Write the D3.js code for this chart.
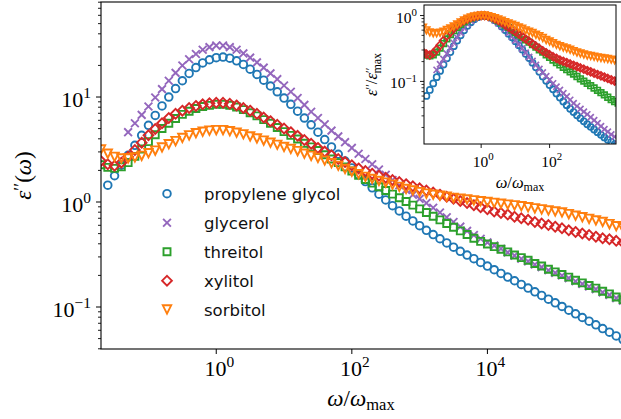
<!DOCTYPE html>
<html><head><meta charset="utf-8">
<script src="https://cdn.jsdelivr.net/npm/d3@7"></script>
<style>html,body{margin:0;padding:0;background:#fff;} svg{display:block}</style>
</head><body>
<svg id="chart" width="621" height="419"></svg>
<script>
// ---------------- data (log10 of omega/omega_max and log10 of eps'') ----------------
const logOmega = [-1.7,-1.6,-1.5,-1.4,-1.3,-1.2,-1.1,-1.0,-0.9,-0.8,
  -0.7,-0.6,-0.5,-0.4,-0.3,-0.2,-0.1,0.0,0.1,0.2,
  0.3,0.4,0.5,0.6,0.7,0.8,0.9,1.0,1.1,1.2,
  1.3,1.4,1.5,1.6,1.7,1.8,1.9,2.0,2.1,2.2,
  2.3,2.4,2.5,2.6,2.7,2.8,2.9,3.0,3.1,3.2,
  3.3,3.4,3.5,3.6,3.7,3.8,3.9,4.0,4.1,4.2,
  4.3,4.4,4.5,4.6,4.7,4.8,4.9,5.0,5.1,5.2,
  5.3,5.4,5.5,5.6,5.7,5.8,5.9,6.0];

const logEpsPropyleneGlycol = [null,0.16,0.25,0.35,0.445,0.54,0.635,0.73,0.825,0.915,
  1.0,1.08,1.155,1.225,1.28,1.325,1.355,1.375,1.38,1.37,
  1.345,1.31,1.265,1.215,1.16,1.105,1.05,0.99,0.93,0.865,
  0.80,0.735,0.665,0.595,0.525,0.455,0.39,0.325,0.26,0.195,
  0.135,0.075,0.02,-0.035,-0.085,-0.135,-0.18,-0.225,-0.27,-0.31,
  -0.35,-0.39,-0.43,-0.47,-0.505,-0.54,-0.575,-0.61,-0.645,-0.68,
  -0.715,-0.75,-0.785,-0.82,-0.855,-0.89,-0.925,-0.96,-0.995,-1.03,
  -1.065,-1.10,-1.135,-1.17,-1.205,-1.24,-1.275,-1.31];

const logEpsGlycerol = [null,null,null,null,0.665,0.75,0.83,0.91,0.995,1.075,
  1.155,1.23,1.30,1.36,1.41,1.45,1.475,1.49,1.49,1.475,
  1.45,1.415,1.375,1.33,1.28,1.225,1.17,1.11,1.05,0.99,
  0.925,0.86,0.80,0.74,0.68,0.625,0.57,0.515,0.46,0.41,
  0.36,0.31,0.26,0.21,0.16,0.115,0.07,0.03,-0.01,-0.055,
  -0.10,-0.145,-0.19,-0.235,-0.275,-0.315,-0.35,-0.385,-0.415,-0.445,
  -0.48,-0.51,-0.54,-0.565,-0.595,-0.62,-0.65,-0.675,-0.70,-0.725,
  -0.755,-0.78,-0.805,-0.83,-0.86,-0.885,-0.915,-0.94];

const logEpsThreitol = [0.355,0.33,0.32,0.335,0.375,0.435,0.505,0.575,0.64,0.70,
  0.75,0.795,0.835,0.865,0.89,0.91,0.92,0.93,0.93,0.92,
  0.905,0.88,0.85,0.82,0.785,0.75,0.71,0.67,0.635,0.60,
  0.56,0.525,0.49,0.45,0.41,0.375,0.335,0.295,0.255,0.215,
  0.18,0.145,0.11,0.075,0.04,0.005,-0.03,-0.065,-0.10,-0.135,
  -0.17,-0.205,-0.24,-0.275,-0.31,-0.345,-0.375,-0.40,-0.425,-0.45,
  -0.475,-0.505,-0.53,-0.555,-0.585,-0.61,-0.64,-0.665,-0.69,-0.715,
  -0.745,-0.77,-0.795,-0.82,-0.85,-0.875,-0.905,-0.93];

const logEpsXylitol = [0.39,0.36,0.345,0.375,0.43,0.495,0.565,0.635,0.695,0.75,
  0.80,0.84,0.87,0.895,0.915,0.93,0.94,0.945,0.945,0.935,
  0.92,0.895,0.87,0.84,0.805,0.77,0.735,0.70,0.665,0.63,
  0.59,0.555,0.515,0.48,0.445,0.41,0.38,0.35,0.32,0.295,
  0.27,0.25,0.23,0.21,0.19,0.17,0.15,0.13,0.11,0.09,
  0.07,0.05,0.03,0.01,-0.01,-0.03,-0.05,-0.07,-0.09,-0.105,
  -0.12,-0.14,-0.155,-0.17,-0.19,-0.205,-0.22,-0.235,-0.25,-0.27,
  -0.285,-0.30,-0.315,-0.33,-0.345,-0.355,-0.37,-0.385];

const logEpsSorbitol = [0.50,0.46,0.43,0.415,0.415,0.425,0.44,0.465,0.49,0.52,
  0.55,0.58,0.61,0.635,0.655,0.67,0.68,0.685,0.685,0.675,
  0.66,0.645,0.625,0.605,0.585,0.565,0.545,0.525,0.505,0.485,
  0.46,0.44,0.42,0.395,0.37,0.345,0.315,0.29,0.265,0.24,
  0.22,0.20,0.185,0.165,0.145,0.125,0.11,0.095,0.08,0.07,
  0.06,0.05,0.04,0.032,0.024,0.016,0.008,0.0,-0.008,-0.016,
  -0.024,-0.032,-0.04,-0.05,-0.06,-0.07,-0.08,-0.09,-0.10,-0.115,
  -0.13,-0.145,-0.16,-0.175,-0.19,-0.21,-0.23,-0.25];

const seriesNames = ["propylene glycol","glycerol","threitol","xylitol","sorbitol"];
const seriesColors = ["#1f77b4","#9467bd","#2ca02c","#d62728","#ff7f0e"];
const seriesMarkers = ["circle","x","square","diamond","triangleDown"];
const seriesLogEps = [logEpsPropyleneGlycol, logEpsGlycerol, logEpsThreitol, logEpsXylitol, logEpsSorbitol];

const mainXTickExps = [0, 2, 4];
const mainYTickExps = [-1, 0, 1];
const insetXTickExps = [0, 2];
const insetYTickExps = [-1, 0];

// ---------------- build ----------------
const svg = d3.select("#chart");
const mathFont = "'Liberation Serif','DejaVu Serif',serif";
const sansFont = "'DejaVu Sans',sans-serif";

const series = seriesNames.map((name, i) => {
  const pts = [];
  logOmega.forEach((lx, j) => {
    const v = seriesLogEps[i][j];
    if (v !== null) pts.push({ w: Math.pow(10, lx), e: Math.pow(10, v) });
  });
  const maxE = d3.max(pts, p => p.e);
  pts.forEach(p => p.n = p.e / maxE);
  return { name, color: seriesColors[i], marker: seriesMarkers[i], pts };
});

function markerPath(type, k) {
  if (type === "circle") { const r = 3.8*k; return `M${r},0A${r},${r} 0 1 1 ${-r},0A${r},${r} 0 1 1 ${r},0Z`; }
  if (type === "square") { const h = 3.5*k; return `M${-h},${-h}H${h}V${h}H${-h}Z`; }
  if (type === "diamond") { const d = 4.9*k; return `M0,${-d}L${d},0L0,${d}L${-d},0Z`; }
  if (type === "triangleDown") { const s = 4.2*k; return `M${-s},${-s}L${s},${-s}L0,${s}Z`; }
  if (type === "x") { const s = 3.9*k; return `M${-s},${-s}L${s},${s}M${-s},${s}L${s},${-s}`; }
}

function powLabel(sel, exp, size) {
  const t = sel.append("text").attr("font-family", mathFont).attr("font-size", size).attr("fill", "#000");
  t.append("tspan").text("10");
  t.append("tspan").attr("dy", -0.42*size).attr("font-size", size*0.7)
    .text(exp < 0 ? "\u2212" + Math.abs(exp) : String(exp));
  return t;
}

// ---- main axes ----
const m = { left: 101, right: 623, top: 2, bottom: 349 };
const x = d3.scaleLog().domain([Math.pow(10,-1.70), Math.pow(10,6.0)]).range([m.left, m.right]);
const y = d3.scaleLog().domain([Math.pow(10,-1.40), Math.pow(10,1.905)]).range([m.bottom, m.top]);

svg.append("clipPath").attr("id","mainClip").append("rect")
  .attr("x", m.left).attr("y", m.top).attr("width", m.right-m.left).attr("height", m.bottom-m.top);

const plotG = svg.append("g").attr("clip-path","url(#mainClip)");
series.forEach(s => {
  plotG.append("g").selectAll("path").data(s.pts).join("path")
    .attr("transform", p => `translate(${x(p.w)},${y(p.e)})`)
    .attr("d", markerPath(s.marker, 1))
    .attr("fill", "none").attr("stroke", s.color).attr("stroke-width", 1.9);
});

// y ticks (major + minor)
const yMinor = [];
for (let d = -2; d <= 1; d++) for (let k = 2; k <= 9; k++) {
  const v = k*Math.pow(10,d);
  if (v >= y.domain()[0] && v <= y.domain()[1]) yMinor.push(v);
}
const axG = svg.append("g").attr("stroke","#000");
yMinor.forEach(v => axG.append("line").attr("x1", m.left-3).attr("x2", m.left).attr("y1", y(v)).attr("y2", y(v)).attr("stroke-width",0.9));
mainYTickExps.forEach(e => {
  const v = Math.pow(10,e);
  axG.append("line").attr("x1", m.left-5).attr("x2", m.left).attr("y1", y(v)).attr("y2", y(v)).attr("stroke-width",1);
  powLabel(svg, e, 22).attr("x", m.left-10).attr("y", y(v)+10).attr("text-anchor","end");
});
mainXTickExps.forEach(e => {
  const v = Math.pow(10,e);
  axG.append("line").attr("x1", x(v)).attr("x2", x(v)).attr("y1", m.bottom).attr("y2", m.bottom+5).attr("stroke-width",1);
  powLabel(svg, e, 22).attr("x", x(v)+3).attr("y", 376).attr("text-anchor","middle");
});
// spines
svg.append("rect").attr("x", m.left).attr("y", m.top).attr("width", m.right-m.left).attr("height", m.bottom-m.top)
  .attr("fill","none").attr("stroke","#000").attr("stroke-width",1.1);

// axis labels
const yl = svg.append("text").attr("font-family", mathFont).attr("font-size", 23)
  .attr("transform", `translate(31,${(m.top+m.bottom)/2}) rotate(-90)`).attr("text-anchor","middle");
yl.append("tspan").attr("font-style","italic").text("\u03B5");
yl.append("tspan").attr("dy",-4).attr("font-size",18).text("\u2032\u2032");
yl.append("tspan").attr("dy",4).text("(");
yl.append("tspan").attr("font-style","italic").text("\u03C9");
yl.append("tspan").text(")");

const xl = svg.append("text").attr("font-family", mathFont).attr("font-size", 23)
  .attr("x", 361).attr("y", 406).attr("text-anchor","middle");
xl.append("tspan").attr("font-style","italic").text("\u03C9");
xl.append("tspan").text("/");
xl.append("tspan").attr("font-style","italic").text("\u03C9");
xl.append("tspan").attr("dy",4).attr("font-size",16.5).text("max");

// legend
const legRows = [193.7, 222.7, 251.7, 280.7, 309.5];
series.forEach((s, i) => {
  svg.append("path").attr("transform", `translate(167,${legRows[i]})`).attr("d", markerPath(s.marker,1))
    .attr("fill","none").attr("stroke", s.color).attr("stroke-width",1.9);
  svg.append("text").attr("x",204).attr("y", legRows[i]+6.5).attr("font-family", sansFont).attr("font-size",16.5)
    .attr("fill","#111").text(s.name);
});

// ---- inset ----
const im = { left: 424, right: 616, top: 5, bottom: 144 };
const xi = d3.scaleLog().domain([Math.pow(10,-1.67), Math.pow(10,3.94)]).range([im.left, im.right]);
const yi = d3.scaleLog().domain([Math.pow(10,-1.95), Math.pow(10,0.16)]).range([im.bottom, im.top]);

svg.append("rect").attr("x", im.left).attr("y", im.top).attr("width", im.right-im.left).attr("height", im.bottom-im.top)
  .attr("fill","#fff");
svg.append("clipPath").attr("id","insetClip").append("rect")
  .attr("x", im.left).attr("y", im.top).attr("width", im.right-im.left).attr("height", im.bottom-im.top);
const insG = svg.append("g").attr("clip-path","url(#insetClip)");
series.forEach(s => {
  insG.append("g").selectAll("path").data(s.pts).join("path")
    .attr("transform", p => `translate(${xi(p.w)},${yi(p.n)})`)
    .attr("d", markerPath(s.marker, 0.8))
    .attr("fill","none").attr("stroke", s.color).attr("stroke-width",1.7);
});
const yiMinor = [];
for (let d = -2; d <= 0; d++) for (let k = 2; k <= 9; k++) {
  const v = k*Math.pow(10,d);
  if (v >= yi.domain()[0] && v <= yi.domain()[1]) yiMinor.push(v);
}
yiMinor.forEach(v => svg.append("line").attr("x1", im.left-2.5).attr("x2", im.left).attr("y1", yi(v)).attr("y2", yi(v)).attr("stroke","#000").attr("stroke-width",0.8));
insetYTickExps.forEach(e => {
  const v = Math.pow(10,e);
  svg.append("line").attr("x1", im.left-4).attr("x2", im.left).attr("y1", yi(v)).attr("y2", yi(v)).attr("stroke","#000").attr("stroke-width",0.9);
  powLabel(svg, e, 15.5).attr("x", im.left-7).attr("y", yi(v)+7).attr("text-anchor","end");
});
insetXTickExps.forEach(e => {
  const v = Math.pow(10,e);
  svg.append("line").attr("x1", xi(v)).attr("x2", xi(v)).attr("y1", im.bottom).attr("y2", im.bottom+4).attr("stroke","#000").attr("stroke-width",0.9);
  powLabel(svg, e, 15.5).attr("x", xi(v)+2).attr("y", 167).attr("text-anchor","middle");
});
svg.append("rect").attr("x", im.left).attr("y", im.top).attr("width", im.right-im.left).attr("height", im.bottom-im.top)
  .attr("fill","none").attr("stroke","#000").attr("stroke-width",1);

const ixl = svg.append("text").attr("font-family", mathFont).attr("font-size", 16.5)
  .attr("x", 520).attr("y", 188).attr("text-anchor","middle");
ixl.append("tspan").attr("font-style","italic").text("\u03C9");
ixl.append("tspan").text("/");
ixl.append("tspan").attr("font-style","italic").text("\u03C9");
ixl.append("tspan").attr("dy",3).attr("font-size",12).text("max");

const iyl = svg.append("text").attr("font-family", mathFont).attr("font-size", 16.5)
  .attr("transform", `translate(377,${(im.top+im.bottom)/2}) rotate(-90)`).attr("text-anchor","middle");
iyl.append("tspan").attr("font-style","italic").text("\u03B5");
iyl.append("tspan").attr("dy",-3).attr("font-size",12.5).text("\u2032\u2032");
iyl.append("tspan").attr("dy",3).text("/");
iyl.append("tspan").attr("font-style","italic").text("\u03B5");
iyl.append("tspan").attr("dy",-3).attr("font-size",12.5).text("\u2032\u2032");
iyl.append("tspan").attr("dx",-6).attr("dy",7).attr("font-size",12).text("max");
</script>
</body></html>
